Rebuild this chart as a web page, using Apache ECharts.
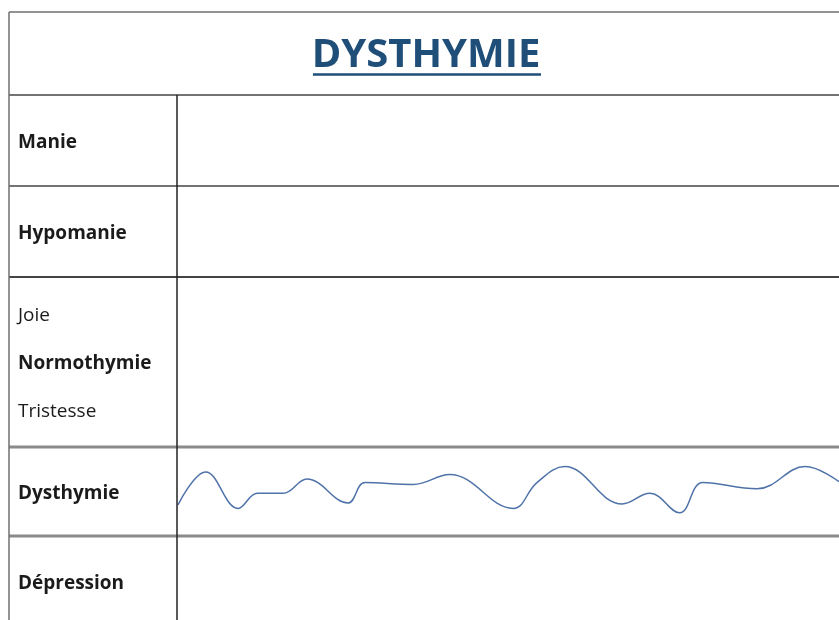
<!DOCTYPE html>
<html>
<head>
<meta charset="UTF-8">
<title>Dysthymie</title>
<script src="https://cdn.jsdelivr.net/npm/echarts@6/dist/echarts.min.js"></script>
<style>
  html, body { margin: 0; padding: 0; background: #fff; }
  #container { width: 839px; height: 620px; }
</style>
</head>
<body>
<div id="container"></div>
<script>
// libellés des lignes du tableau
var rowLabels = ['Manie', 'Hypomanie', 'Normothymie', 'Dysthymie', 'Dépression'];
var normoLabels = ['Joie', 'Tristesse'];

// courbe de l'humeur (temps 0..100, niveau 0..10 dans la bande "Dysthymie")
var moodTime  = [0, 4.2, 9.1, 12.0, 15.9, 19.5, 25.7, 28.3, 35.6, 41.1, 50.7, 54.3, 58.5, 67.2, 71.4, 75.9, 79.4, 87.6, 94.9, 100];
var moodLevel = [3.5, 7.2, 3.1, 4.8, 4.8, 6.4, 3.7, 6.0, 5.8, 6.9, 3.1, 6.0, 7.8, 3.6, 4.8, 2.6, 6.0, 5.3, 7.8, 6.1];

var mood = moodTime.map(function (t, i) { return [t, moodLevel[i]]; });

// positions des lignes du tableau
var rowEdges = [95, 186, 277, 447, 536, 620];
var colX = 177, leftX = 9, topY = 12, W = 839;

var elements = [];
function hline(y, color, w) {
    elements.push({ type: 'line', shape: { x1: leftX, y1: y, x2: W, y2: y }, style: { stroke: color, lineWidth: w }, z: 10 });
}
function label(txt, y, bold) {
    elements.push({
        type: 'text', x: 18, y: y,
        style: { text: txt, fill: '#1b1b1b', font: (bold ? 'bold ' : '') + '19px "Open Sans", sans-serif', textVerticalAlign: 'middle' },
        z: 10
    });
}

hline(topY, '#6f6f6f', 1.5);
hline(rowEdges[0], '#444', 1.5);
hline(rowEdges[1], '#444', 1.5);
hline(rowEdges[2], '#444', 2);
hline(rowEdges[3], '#8a8a8a', 3);
hline(rowEdges[4], '#8a8a8a', 3);
elements.push({ type: 'line', shape: { x1: leftX, y1: topY, x2: leftX, y2: 620 }, style: { stroke: '#6f6f6f', lineWidth: 1.5 }, z: 10 });
elements.push({ type: 'line', shape: { x1: colX, y1: rowEdges[0], x2: colX, y2: 620 }, style: { stroke: '#222', lineWidth: 1.5 }, z: 10 });

// soulignement du titre
elements.push({ type: 'line', shape: { x1: 313, y1: 74.5, x2: 541, y2: 74.5 }, style: { stroke: '#1f4e79', lineWidth: 2.5 }, z: 10 });

for (var i = 0; i < rowLabels.length; i++) {
    var yc = (rowEdges[i] + rowEdges[i + 1]) / 2 + 2;
    if (i === rowLabels.length - 1) yc = 584;
    label(rowLabels[i], yc, true);
    if (rowLabels[i] === 'Normothymie') {
        label(normoLabels[0], yc - 48, false);
        label(normoLabels[1], yc + 48, false);
    }
}

var mychart = echarts.init(document.getElementById('container'));
var option = {
    animation: false,
    title: {
        text: 'DYSTHYMIE',
        left: 421,
        textAlign: 'center',
        top: 31,
        textStyle: { color: '#1f4e79', fontSize: 40, fontWeight: 'bold', fontFamily: '"Open Sans", sans-serif' }
    },
    grid: { left: colX + 1, top: rowEdges[3], width: W - colX - 1, height: rowEdges[4] - rowEdges[3] },
    xAxis: { type: 'value', min: 0, max: 100, show: false },
    yAxis: { type: 'value', min: 0, max: 10, show: false },
    graphic: elements,
    series: [{
        type: 'line',
        data: mood,
        smooth: 0.4,
        symbol: 'none',
        lineStyle: { color: '#4f73a8', width: 1.5 }
    }]
};
mychart.setOption(option);
</script>
</body>
</html>
